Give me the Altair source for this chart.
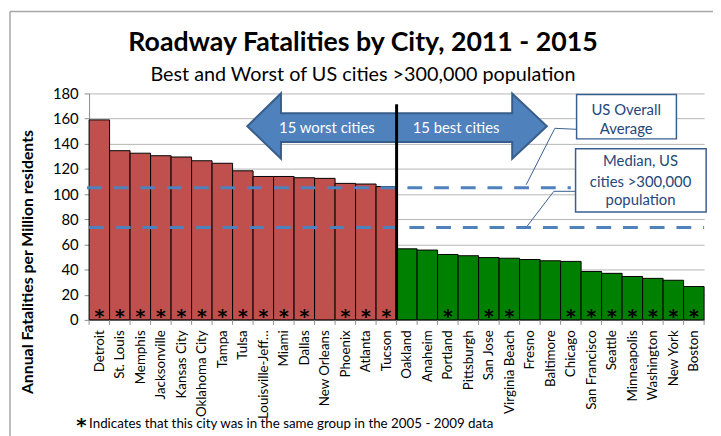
import json
import altair as alt
import pandas as pd

cities = ["Detroit", "St. Louis", "Memphis", "Jacksonville", "Kansas City", "Oklahoma City",
          "Tampa", "Tulsa", "Louisville-Jeff…", "Miami", "Dallas", "New Orleans", "Phoenix",
          "Atlanta", "Tucson",
          "Oakland", "Anaheim", "Portland", "Pittsburgh", "San Jose", "Virginia Beach", "Fresno",
          "Baltimore", "Chicago", "San Francisco", "Seattle", "Minneapolis", "Washington",
          "New York", "Boston"]
values = [159, 134.5, 132.5, 130.5, 129.5, 126.5, 124.5, 118.5, 114, 114, 113, 112.5, 108.5, 108, 106,
          56.5, 55.5, 52, 51, 49.5, 49, 48, 47, 46.5, 38.5, 37, 34.5, 33, 31.5, 26.5]
starred = [1, 1, 1, 1, 1, 1, 1, 1, 1, 1, 1, 0, 1, 1, 1,
           0, 0, 1, 0, 1, 1, 0, 0, 1, 1, 1, 1, 1, 1, 1]
groups = ["worst"] * 15 + ["best"] * 15
y_ticks = [0, 20, 40, 60, 80, 100, 120, 140, 160, 180]

us_average = 105
us_median = 73.5

title_text = "Roadway Fatalities by City, 2011 - 2015"
subtitle_text = "Best and Worst of US cities >300,000 population"
footnote_text = "Indicates that this city was in the same group in the 2005 - 2009 data"
y_title = "Annual Fatalities per Million residents"

FONT = "Lato"
W, H = 622, 229

df = pd.DataFrame({
    "city": cities, "value": values, "star": starred, "group": groups,
    "i": list(range(len(cities))),
})
df["x0"] = df["i"]
df["x1"] = df["i"] + 1
df["xc"] = df["i"] + 0.5

label_expr = json.dumps(cities) + "[floor(datum.value)]"
xscale = alt.Scale(domain=[0, 30], nice=False, zero=False)
yscale = alt.Scale(domain=[0, 180], nice=False)

xaxis = alt.Axis(
    values=[k + 0.5 for k in range(len(cities))], labelExpr=label_expr, labelAngle=-90,
    labelFontSize=13.5, labelFont=FONT, labelColor="#000", labelPadding=10,
    ticks=False, grid=False, domainColor="#8c8c8c", labelOverlap=False,
    labelBound=False, labelFlush=False, title=None)
yaxis = alt.Axis(
    values=y_ticks, labelFontSize=15, labelFont=FONT, labelColor="#000",
    tickSize=5, tickColor="#8c8c8c", domainColor="#8c8c8c", gridColor="#b5b5b5",
    labelPadding=6, labelOverlap=False, labelFlush=False, labelBound=False,
    title=y_title, titleFont=FONT, titleFontSize=16, titleFontWeight="bold", titleColor="#000",
    titleAngle=-90, titleX=-62, titleY=170, titleAlign="center", titleBaseline="middle")


def X(field):
    return alt.X(field, scale=xscale, axis=xaxis)


def Y(field, **kw):
    return alt.Y(field, scale=yscale, axis=yaxis, **kw)


base = alt.Chart(df)

bars = base.mark_bar(stroke="black", strokeWidth=1).encode(
    x=X("x0:Q"), x2="x1:Q",
    y=Y("value:Q"), y2=alt.datum(0),
    color=alt.Color("group:N", scale=alt.Scale(domain=["worst", "best"], range=["#C0504D", "#008000"]),
                    legend=None),
)

stars = base.transform_filter("datum.star == 1").mark_text(
    text="*", font="DejaVu Sans", fontSize=19, fontWeight="bold", color="#000",
    baseline="alphabetic", dy=3
).encode(x=X("xc:Q"), y=alt.Y(datum=0, scale=yscale, axis=yaxis))

edges = pd.DataFrame({"e": list(range(len(cities) + 1))})
xticks = alt.Chart(edges).mark_rule(color="#8c8c8c").encode(
    x=X("e:Q"), y=alt.value(H), y2=alt.value(H + 5))

ref = pd.DataFrame({"name": ["avg", "median"], "y": [us_average, us_median],
                    "xa": [-0.1, 0.0], "xb": [23.5, 30.0]})
reflines = alt.Chart(ref).mark_rule(color="#4F81BD", strokeWidth=3, strokeDash=[15, 12]).encode(
    x=X("xa:Q"), x2="xb:Q", y=Y("y:Q"))

# arrows (polygons described in data units; sorted by x)
arrows = pd.DataFrame({
    "arrow": ["worst"] * 4 + ["best"] * 4,
    "ax": [7.72, 9.36, 9.361, 15.0, 15.0, 20.639, 20.64, 22.33],
    "top": [154, 180, 164.3, 164.3, 164.3, 164.3, 180, 154],
    "bot": [154, 128.1, 141.5, 141.5, 141.5, 141.5, 128.1, 154],
})
arrow_marks = alt.Chart(arrows).mark_area(
    fill="#4F81BD", stroke="#385D8A", strokeWidth=2, opacity=1, fillOpacity=1, interpolate="linear"
).encode(x=X("ax:Q"), y=Y("top:Q", stack=None), y2="bot:Q", detail="arrow:N")

arrow_text = pd.DataFrame({"t": ["15 worst cities", "15 best cities"], "tx": [11.6, 17.9],
                           "ty": [152.5, 152.5]})
arrow_labels = alt.Chart(arrow_text).mark_text(font=FONT, fontSize=15, color="white").encode(
    x=X("tx:Q"), y=Y("ty:Q"), text="t:N")

divider = pd.DataFrame({"dx": [15.0], "dy1": [171.4]})
divider_rule = alt.Chart(divider).mark_rule(color="black", strokeWidth=3).encode(
    x=X("dx:Q"), y=Y("dy1:Q"), y2=alt.datum(0))

# callouts
boxes = pd.DataFrame({"bx1": [23.78, 23.73], "bx2": [28.65, 30.1], "by1": [179.2, 136.0],
                      "by2": [143.9, 85.7]})
box_marks = alt.Chart(boxes).mark_rect(fill="white", stroke="#3A5F8F", strokeWidth=1.5).encode(
    x=X("bx1:Q"), x2="bx2:Q", y=Y("by1:Q"), y2="by2:Q")

leaders = pd.DataFrame({
    "lname": ["avg"] * 3 + ["median"] * 3,
    "ord": [0, 1, 2, 0, 1, 2],
    "lx": [23.78, 22.72, 21.32, 23.73, 22.67, 21.37],
    "ly": [151.5, 152.3, 107.4, 102.2, 102.2, 74.5],
})
leader_lines = alt.Chart(leaders).mark_line(color="#3A5F8F", strokeWidth=1).encode(
    x=X("lx:Q"), y=Y("ly:Q"), order="ord:Q", detail="lname:N")

callout_text = pd.DataFrame({
    "ct": ["US Overall", "Average", "Median, US", "cities >300,000", "population"],
    "cx": [26.2, 26.2, 26.9, 26.9, 26.9],
    "cy": [167.0, 152.0, 126.0, 109.5, 95.5],
})
callout_labels = alt.Chart(callout_text).mark_text(font=FONT, fontSize=15, color="#24477A").encode(
    x=X("cx:Q"), y=Y("cy:Q"), text="ct:N")

# title, subtitle, footnote and chart frame (pixel positions relative to plot area)
texts = pd.DataFrame({"title": [title_text], "subtitle": [subtitle_text], "foot": [footnote_text]})
tbase = alt.Chart(texts)
title_mark = tbase.mark_text(font=FONT, fontSize=27, fontWeight="bold", color="#000",
                             align="center", baseline="alphabetic").encode(
    x=alt.value(277), y=alt.value(-43), text="title:N")
subtitle_mark = tbase.mark_text(font=FONT, fontSize=20, color="#000",
                                align="center", baseline="alphabetic").encode(
    x=alt.value(277), y=alt.value(-13), text="subtitle:N")
foot_text = tbase.mark_text(font=FONT, fontSize=13.5, color="#000", align="left",
                            baseline="alphabetic").encode(
    x=alt.value(0), y=alt.value(338), text="foot:N")
foot_star = tbase.mark_text(text="*", font="DejaVu Sans", fontSize=20, fontWeight="bold",
                            color="#000", align="left", baseline="alphabetic").encode(
    x=alt.value(-13), y=alt.value(342))

frame_top = tbase.mark_rule(color="#a6a6a6", strokeWidth=1.5).encode(
    x=alt.value(-80), x2=alt.value(W + 20), y=alt.value(-83))
frame_left = tbase.mark_rule(color="#a6a6a6", strokeWidth=1.5).encode(
    x=alt.value(-80), y=alt.value(-83), y2=alt.value(H + 130))

chart = alt.layer(
    bars, xticks, stars, reflines, arrow_marks, arrow_labels, divider_rule,
    leader_lines, box_marks, callout_labels, title_mark, subtitle_mark,
    foot_text, foot_star, frame_top, frame_left
).properties(
    width=W, height=H,
    autosize=alt.AutoSizeParams(type="none"),
    padding={"left": 82, "top": 84, "right": 9, "bottom": 115},
).configure_view(stroke=None).configure_axis(labelOverlap=False)

chart.save("out.html", embed_options={"renderer": "svg", "actions": False})
